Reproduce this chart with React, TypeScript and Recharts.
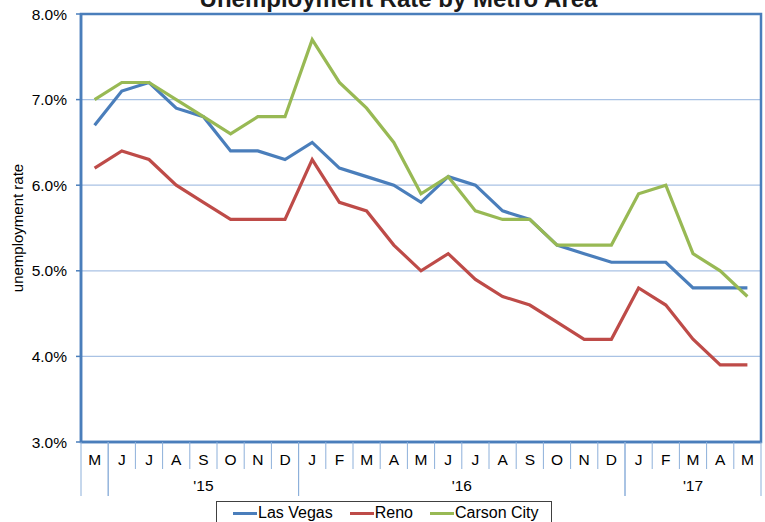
import React from "react";
import { LineChart, Line, XAxis, YAxis, CartesianGrid, ReferenceArea } from "recharts";

const months = ["M", "J", "J", "A", "S", "O", "N", "D", "J", "F", "M", "A", "M", "J", "J", "A", "S", "O", "N", "D", "J", "F", "M", "A", "M"];
const years = ["", "'15", "'15", "'15", "'15", "'15", "'15", "'15", "'16", "'16", "'16", "'16", "'16", "'16", "'16", "'16", "'16", "'16", "'16", "'16", "'17", "'17", "'17", "'17", "'17"];

const lasVegas = [6.7, 7.1, 7.2, 6.9, 6.8, 6.4, 6.4, 6.3, 6.5, 6.2, 6.1, 6.0, 5.8, 6.1, 6.0, 5.7, 5.6, 5.3, 5.2, 5.1, 5.1, 5.1, 4.8, 4.8, 4.8];
const reno = [6.2, 6.4, 6.3, 6.0, 5.8, 5.6, 5.6, 5.6, 6.3, 5.8, 5.7, 5.3, 5.0, 5.2, 4.9, 4.7, 4.6, 4.4, 4.2, 4.2, 4.8, 4.6, 4.2, 3.9, 3.9];
const carsonCity = [7.0, 7.2, 7.2, 7.0, 6.8, 6.6, 6.8, 6.8, 7.7, 7.2, 6.9, 6.5, 5.9, 6.1, 5.7, 5.6, 5.6, 5.3, 5.3, 5.3, 5.9, 6.0, 5.2, 5.0, 4.7];

const yTicks = [3, 4, 5, 6, 7, 8];

const data = months.map((m, i) => ({
  period: i,
  month: m,
  lasVegas: lasVegas[i],
  reno: reno[i],
  carsonCity: carsonCity[i],
}));

const W = 765;
const H = 522;
const MARGIN = { top: 14, right: 4, bottom: 0, left: 0 };
const Y_AXIS_W = 81;
const X_AXIS_H = 80;
const BAND = (W - MARGIN.left - MARGIN.right - Y_AXIS_W) / months.length;

const FONT = "'Liberation Sans', Arial, sans-serif";
const AXIS_BLUE = "#4A7EBB";
const SEP_BLUE = "#8DB0DA";
const GRID_BLUE = "#A9C2E4";

const SERIES = [
  { key: "lasVegas", name: "Las Vegas", color: "#4A7EBB" },
  { key: "reno", name: "Reno", color: "#BE4B48" },
  { key: "carsonCity", name: "Carson City", color: "#98B954" },
];

// month letter, cell separators and the year row underneath
const MonthTick = (props: any) => {
  const { x, y, index } = props;
  const half = BAND / 2;
  const startsGroup = index === 0 || years[index] !== years[index - 1];
  const endsGroup = index === months.length - 1 || years[index + 1] !== years[index];
  let groupLen = 0;
  if (startsGroup) {
    let j = index;
    while (j < years.length && years[j] === years[index]) {
      groupLen++;
      j++;
    }
  }
  return (
    <g>
      <text x={x} y={y + 23} textAnchor="middle" fontSize={15.5} fontFamily={FONT} fill="#000">
        {months[index]}
      </text>
      {startsGroup && <line x1={x - half} x2={x - half} y1={y} y2={y + 54} stroke={SEP_BLUE} strokeWidth={1} />}
      <line x1={x + half} x2={x + half} y1={y} y2={y + (endsGroup ? 54 : 27)} stroke={SEP_BLUE} strokeWidth={1} />
      {startsGroup && years[index] && (
        <text x={x - half + (groupLen * BAND) / 2} y={y + 49} textAnchor="middle" fontSize={15.5} fontFamily={FONT} fill="#000">
          {years[index]}
        </text>
      )}
    </g>
  );
};

const LegendBox = () => (
  <div
    style={{
      position: "absolute",
      left: 216,
      top: 501,
      width: 336,
      height: 30,
      border: "1px solid #404040",
      display: "flex",
      alignItems: "flex-start",
      paddingLeft: 16,
      paddingTop: 2,
      boxSizing: "border-box",
      fontFamily: FONT,
      fontSize: 16,
      lineHeight: "18px",
      color: "#000",
      background: "#fff",
      whiteSpace: "nowrap",
    }}
  >
    {SERIES.map((s) => (
      <div key={s.key} style={{ display: "flex", alignItems: "center", marginRight: 17 }}>
        <span style={{ display: "inline-block", width: 24, height: 3, background: s.color, marginRight: 1 }} />
        <span>{s.name}</span>
      </div>
    ))}
  </div>
);

export default function App() {
  return (
    <div style={{ position: "absolute", left: 0, top: 0, width: W, height: H, background: "#fff", overflow: "hidden" }}>
      <LineChart width={W} height={H} data={data} margin={MARGIN}>
        <CartesianGrid horizontal vertical={false} stroke={GRID_BLUE} strokeWidth={1.2} />
        <ReferenceArea y1={3} y2={8} fill="none" stroke={AXIS_BLUE} strokeWidth={2.5} ifOverflow="visible" />
        <XAxis
          dataKey="period"
          scale="band"
          interval={0}
          height={X_AXIS_H}
          tickSize={0}
          tickMargin={0}
          tickLine={false}
          axisLine={{ stroke: AXIS_BLUE, strokeWidth: 2.5 }}
          tick={<MonthTick />}
        />
        <YAxis
          width={Y_AXIS_W}
          domain={[3, 8]}
          ticks={yTicks}
          tickFormatter={(v: number) => `${v.toFixed(1)}%`}
          tickSize={5}
          tickMargin={9}
          tickLine={{ stroke: AXIS_BLUE, strokeWidth: 1.5 }}
          axisLine={{ stroke: AXIS_BLUE, strokeWidth: 2.5 }}
          tick={{ fontSize: 15.5, fontFamily: FONT, fill: "#000" }}
        />
        {SERIES.map((s) => (
          <Line
            key={s.key}
            type="linear"
            dataKey={s.key}
            name={s.name}
            stroke={s.color}
            strokeWidth={3.2}
            dot={false}
            activeDot={false}
            isAnimationActive={false}
          />
        ))}
      </LineChart>
      <LegendBox />
      <svg width={W} height={H} style={{ position: "absolute", left: 0, top: 0, pointerEvents: "none" }}>
        <text x={398.5} y={7} textAnchor="middle" fontSize={24} fontWeight="bold" fontFamily={FONT} fill="#1a1a1a">
          Unemployment Rate by Metro Area
        </text>
        <text
          x={0}
          y={0}
          transform="translate(23,228) rotate(-90)"
          textAnchor="middle"
          fontSize={15}
          fontFamily={FONT}
          fill="#000"
        >
          unemployment rate
        </text>
      </svg>
    </div>
  );
}
